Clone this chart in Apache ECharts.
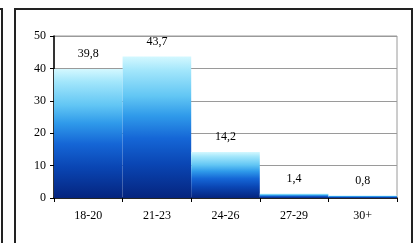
<!DOCTYPE html>
<html>
<head>
<meta charset="utf-8">
<script src="https://cdn.jsdelivr.net/npm/echarts@6/dist/echarts.min.js"></script>
<style>
  html, body { margin: 0; padding: 0; background: #ffffff; }
  #chart { width: 415px; height: 243px; }
</style>
</head>
<body>
<div id="chart"></div>
<script>
// age groups and their share
var categories = ['18-20', '21-23', '24-26', '27-29', '30+'];
var values = [39.8, 43.7, 14.2, 1.4, 0.8];
var yTicks = { min: 0, max: 50, interval: 10 };

var font = 'Liberation Serif';

var myChart = echarts.init(document.getElementById('chart'), null, { renderer: 'canvas' });

myChart.setOption({
    animation: false,
    backgroundColor: '#ffffff',
    grid: {
        left: 54,
        right: 18,
        top: 36,
        bottom: 45,
        show: true,
        borderColor: '#9a9a9a',
        borderWidth: 1
    },
    xAxis: {
        type: 'category',
        data: categories,
        boundaryGap: true,
        axisLine: { lineStyle: { color: '#000000', width: 1.5 } },
        axisTick: { show: true, length: 4, lineStyle: { color: '#000000' } },
        axisLabel: { color: '#000000', fontFamily: font, fontSize: 12, margin: 12 }
    },
    yAxis: {
        type: 'value',
        min: yTicks.min,
        max: yTicks.max,
        interval: yTicks.interval,
        axisLine: { show: true, lineStyle: { color: '#000000', width: 1.5 } },
        axisTick: { show: true, length: 4, lineStyle: { color: '#000000' } },
        axisLabel: { color: '#000000', fontFamily: font, fontSize: 12, margin: 8 },
        splitLine: { lineStyle: { color: '#9a9a9a', width: 1 } }
    },
    series: [
        {
            type: 'bar',
            data: values,
            barCategoryGap: '0%',
            itemStyle: {
                color: {
                    type: 'linear',
                    x: 0, y: 0, x2: 0, y2: 1,
                    colorStops: [
                        { offset: 0, color: '#d4f8ff' },
                        { offset: 0.1, color: '#a2e6fb' },
                        { offset: 0.28, color: '#62c6f4' },
                        { offset: 0.42, color: '#2f9aea' },
                        { offset: 0.58, color: '#1566d6' },
                        { offset: 0.76, color: '#0a46b4' },
                        { offset: 1, color: '#05247e' }
                    ]
                }
            },
            label: {
                show: true,
                position: 'top',
                distance: 9,
                color: '#000000',
                fontFamily: font,
                fontSize: 12,
                formatter: function (p) {
                    return String(p.value).replace('.', ',');
                }
            }
        }
    ],
    graphic: [
        {
            type: 'rect',
            shape: { x: 15, y: 9, width: 397, height: 260 },
            style: { fill: null, stroke: '#222222', lineWidth: 2 },
            silent: true
        },
        {
            type: 'polyline',
            shape: { points: [[0, 9], [2, 9], [2, 243]] },
            style: { fill: null, stroke: '#222222', lineWidth: 2 },
            silent: true
        }
    ]
});
</script>
</body>
</html>
